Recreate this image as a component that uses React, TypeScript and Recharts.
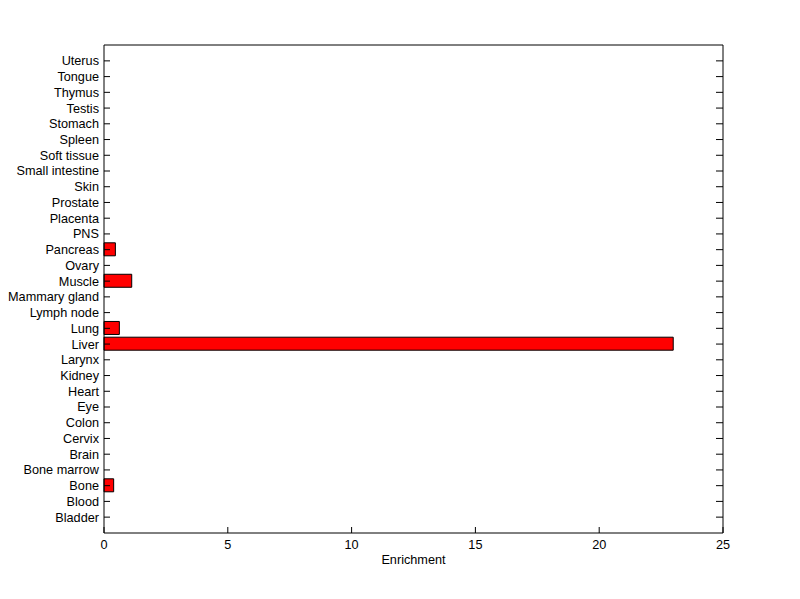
import { BarChart, Bar, XAxis, YAxis } from "recharts";

const tissues = [
  "Bladder", "Blood", "Bone", "Bone marrow", "Brain", "Cervix", "Colon", "Eye",
  "Heart", "Kidney", "Larynx", "Liver", "Lung", "Lymph node", "Mammary gland",
  "Muscle", "Ovary", "Pancreas", "PNS", "Placenta", "Prostate", "Skin",
  "Small intestine", "Soft tissue", "Spleen", "Stomach", "Testis", "Thymus",
  "Tongue", "Uterus",
];
const enrichment = [
  0, 0, 0.39, 0, 0, 0, 0, 0,
  0, 0, 0, 22.99, 0.62, 0, 0,
  1.12, 0, 0.46, 0, 0, 0, 0,
  0, 0, 0, 0, 0, 0,
  0, 0,
];
const xTicks = [0, 5, 10, 15, 20, 25];

const data = tissues.map((name, i) => ({ name, value: enrichment[i] }));

const font = "'Liberation Sans', Arial, sans-serif";
const fs = 12.7;
const tickStyle = { fill: "#000", fontSize: fs, fontFamily: font };
const line = { stroke: "#000", strokeWidth: 1 };

// plain text tick so long names never wrap
const TissueTick = ({ x, y, payload }: any) => (
  <text x={x} y={y} dy="0.35em" textAnchor="end" fill="#000" fontSize={fs} fontFamily={font}>
    {payload.value}
  </text>
);

export default function App() {
  return (
    <div style={{ position: "absolute", left: 0, top: 0, width: 800, height: 599, background: "#fff" }}>
      <BarChart
        width={800}
        height={599}
        data={data}
        layout="vertical"
        margin={{ top: 40, right: 67, bottom: 36, left: 0 }}
      >
        <XAxis
          xAxisId="b"
          type="number"
          domain={[0, 25]}
          ticks={xTicks}
          height={30}
          tickSize={-6}
          tickMargin={13}
          tick={tickStyle}
          axisLine={line}
          tickLine={line}
          label={{ value: "Enrichment", position: "bottom", offset: -8, fill: "#000", fontSize: fs, fontFamily: font }}
        />
        <XAxis
          xAxisId="t"
          orientation="top"
          type="number"
          domain={[0, 25]}
          ticks={xTicks}
          height={5}
          tickSize={-6}
          tick={() => <g />}
          axisLine={line}
          tickLine={line}
        />
        <YAxis
          yAxisId="l"
          type="category"
          dataKey="name"
          reversed
          width={104}
          interval={0}
          padding={{ top: 8, bottom: 8 }}
          tickSize={-6}
          tickMargin={11}
          tick={<TissueTick />}
          axisLine={line}
          tickLine={line}
        />
        <YAxis
          yAxisId="r"
          orientation="right"
          type="category"
          dataKey="name"
          reversed
          width={10}
          interval={0}
          padding={{ top: 8, bottom: 8 }}
          tickSize={-7}
          tick={() => <g />}
          axisLine={line}
          tickLine={line}
        />
        <Bar
          dataKey="value"
          xAxisId="b"
          yAxisId="l"
          fill="#ff0000"
          stroke="#000"
          strokeWidth={1}
          barSize={13}
          isAnimationActive={false}
        />
      </BarChart>
    </div>
  );
}
